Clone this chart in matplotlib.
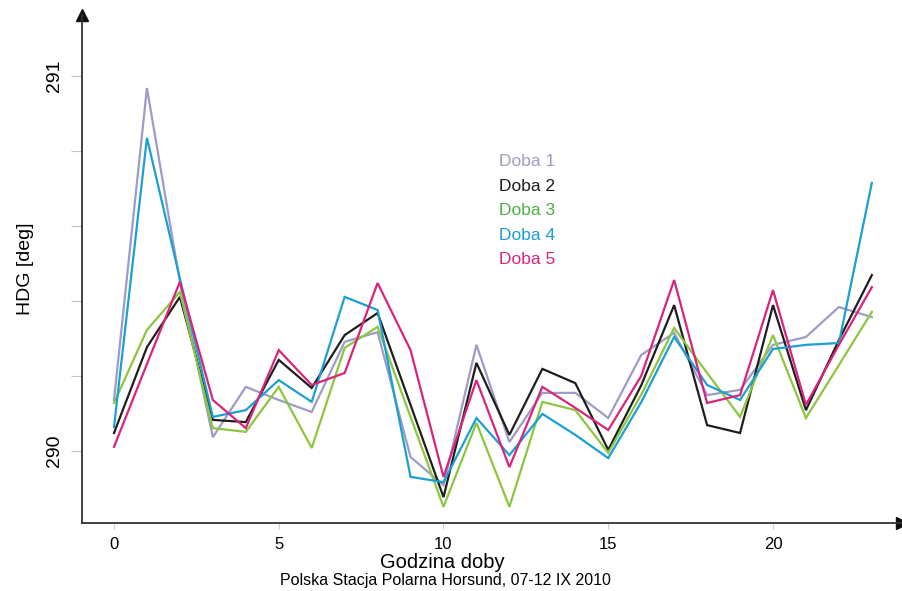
import numpy as np
import matplotlib
matplotlib.use("Agg")
import matplotlib.pyplot as plt

plt.rcParams["font.family"] = ["Liberation Sans", "DejaVu Sans"]

hours = list(range(24))

doba1 = [290.136, 290.968, 290.45, 290.037, 290.171, 290.136, 290.104, 290.291, 290.317, 289.984,
         289.909, 290.283, 290.024, 290.155, 290.155, 290.088, 290.256, 290.315, 290.149, 290.163,
         290.283, 290.304, 290.384, 290.357]
doba2 = [290.048, 290.277, 290.411, 290.083, 290.077, 290.243, 290.168, 290.309, 290.368, 290.123,
         289.877, 290.235, 290.043, 290.219, 290.181, 290.003, 290.175, 290.389, 290.069, 290.048,
         290.389, 290.109, 290.296, 290.469]
doba3 = [290.128, 290.323, 290.424, 290.061, 290.051, 290.171, 290.008, 290.275, 290.331, 290.091,
         289.851, 290.075, 289.851, 290.131, 290.109, 289.995, 290.15, 290.328, 290.208, 290.091,
         290.309, 290.088, 290.229, 290.371]
doba4 = [290.064, 290.835, 290.46, 290.091, 290.109, 290.189, 290.131, 290.411, 290.376, 289.931,
         289.917, 290.088, 289.989, 290.099, 290.043, 289.981, 290.13, 290.304, 290.176, 290.136,
         290.272, 290.283, 290.288, 290.715]
doba5 = [290.011, 290.232, 290.451, 290.136, 290.061, 290.269, 290.176, 290.208, 290.448, 290.269,
         289.931, 290.189, 289.957, 290.171, 290.115, 290.056, 290.2, 290.456, 290.128, 290.149,
         290.429, 290.123, 290.283, 290.437]

series = [doba1, doba2, doba3, doba4, doba5]
names = ["Doba 1", "Doba 2", "Doba 3", "Doba 4", "Doba 5"]
line_colors = ["#9d9cc6", "#1e1e1e", "#8cc63e", "#1c9fd3", "#d9247c"]
text_colors = ["#9d9cc6", "#1e1e1e", "#4bb043", "#1c9fd3", "#d9247c"]

W, H = 903, 591
fig = plt.figure(figsize=(W / 100, H / 100), dpi=100)
# axes box in pixels: left 82, right 902, bottom 523, top 15
ax = fig.add_axes([82 / W, 1 - 523 / H, (902 - 82) / W, (523 - 15) / H])

# pixel mapping: hour 0 at x=114, 32.95 px/hour; 290 at y=451, 375 px/unit
px_per_h = 32.95
px_per_u = 375.0
ax.set_xlim(-(114 - 82) / px_per_h, (902 - 114) / px_per_h)
ax.set_ylim(290 - (523 - 451) / px_per_u, 290 + (451 - 15) / px_per_u)

for vals, c in zip(series, line_colors):
    ax.plot(hours, vals, color=c, lw=1.6, solid_joinstyle="miter")

for sp in ["top", "right"]:
    ax.spines[sp].set_visible(False)
for sp in ["left", "bottom"]:
    ax.spines[sp].set_color("#333333")
    ax.spines[sp].set_linewidth(1.3)

# arrow heads
ax.plot(1, 0, ">", color="#111111", ms=9, transform=ax.transAxes, clip_on=False)
ax.plot(0, 1, "^", color="#111111", ms=9, transform=ax.transAxes, clip_on=False)

ax.set_xticks([0, 5, 10, 15, 20])
ax.tick_params(axis="x", length=4, color="#cccccc", labelsize=12, pad=6)
ax.set_yticks([290, 290.2, 290.4, 290.6, 290.8, 291])
ax.set_yticklabels(["290", "", "", "", "", "291"], rotation=90, va="center")
ax.tick_params(axis="y", length=8, color="#c4c4c4", labelsize=14, pad=6)

ax.set_ylabel("HDG [deg]", fontsize=14, labelpad=8)
fig.text(442 / W, 1 - 563 / H, "Godzina doby", fontsize=14.5,
         ha="center", va="center")
fig.text(445 / W, 1 - 580 / H, "Polska Stacja Polarna Horsund, 07-12 IX 2010",
         fontsize=11.5, ha="center", va="center")

for i, (n, c) in enumerate(zip(names, text_colors)):
    fig.text(499 / W, 1 - (162 + i * 24.5) / H, n, color=c, fontsize=12.5,
             ha="left", va="center")

fig.savefig("out.png", dpi=100)
